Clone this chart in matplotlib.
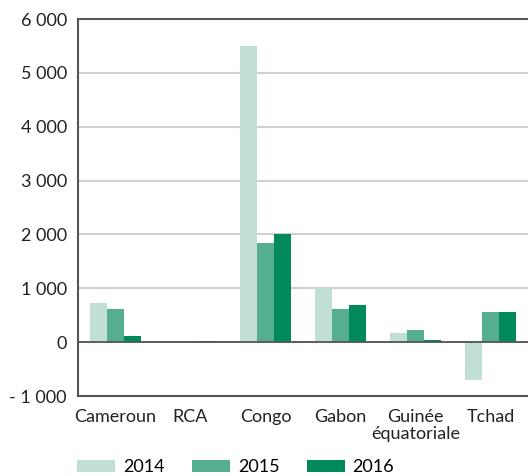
import matplotlib.pyplot as plt
import numpy as np

# data
pays = ['Cameroun', 'RCA', 'Congo', 'Gabon', 'Guinée\néquatoriale', 'Tchad']
annees = ['2014', '2015', '2016']
v2014 = [720, 0, 5500, 1000, 170, -700]
v2015 = [610, 0, 1850, 610, 220, 555]
v2016 = [110, 20, 2000, 690, 40, 555]
couleurs = ['#c2dfd3', '#55ae8f', '#008a5c']

yticks = [-1000, 0, 1000, 2000, 3000, 4000, 5000, 6000]
ylabels = ['- 1 000', '0', '1 000', '2 000', '3 000', '4 000', '5 000', '6 000']

plt.rcParams['font.family'] = ['Lato', 'DejaVu Sans']
fs = 13

fig = plt.figure(figsize=(5.28, 4.76), dpi=100)
ax = fig.add_axes([0.1477, 0.168, 0.8523, 0.792])

x = np.arange(len(pays))
w = 0.226
series = [v2014, v2015, v2016]
for i, vals in enumerate(series):
    ax.bar(x + (i - 1) * w, vals, width=w, color=couleurs[i], label=annees[i], zorder=3)

ax.set_xlim(-0.5, len(pays) - 0.5)
ax.set_ylim(-1000, 6000)
ax.set_yticks(yticks)
ax.set_yticklabels(ylabels, fontsize=fs, color='#222222')
ax.set_xticks(x)
ax.set_xticklabels(pays, fontsize=fs, color='#222222', linespacing=1.15)
ax.tick_params(length=0, axis='both')
ax.tick_params(axis='y', pad=8)
ax.tick_params(axis='x', pad=9)

ax.grid(axis='y', color='#d0d0d0', linewidth=1.5, zorder=0)
ax.axhline(0, color='#555555', linewidth=1.3, zorder=4)

for s in ['left', 'top', 'bottom']:
    ax.spines[s].set_color('#555555')
    ax.spines[s].set_linewidth(1.5)
ax.spines['right'].set_visible(False)

fig.legend(loc='lower left', bbox_to_anchor=(0.146, 0.002), ncol=3, frameon=False,
           fontsize=fs, handlelength=2.1, handleheight=0.65, columnspacing=1.5,
           handletextpad=0.45, borderpad=0, borderaxespad=0)

fig.savefig('out.png', dpi=100)
